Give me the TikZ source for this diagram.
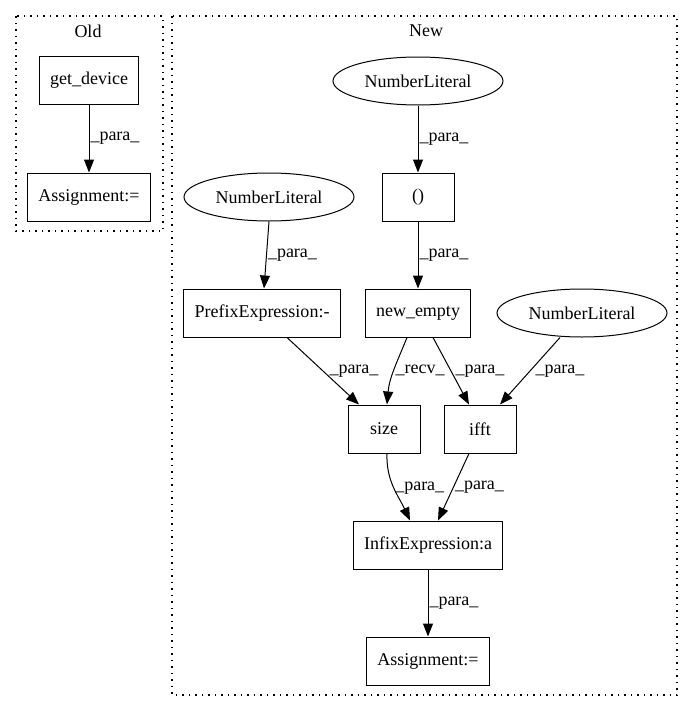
\documentclass[tikz,border=0pt]{standalone}
\usepackage{fontspec}
\setmainfont{Liberation Serif}
\usetikzlibrary{positioning, arrows.meta, shapes.geometric}

\begin{document}
\begin{tikzpicture}
    [
        x=1pt, y=-1pt, node distance=116pt and 34pt, on grid,
        font=\fontsize{18}{21}\selectfont,
        box_node/.style={rectangle, draw=black, line width=1pt, minimum height=48pt, minimum width=72pt, inner xsep=11pt},
        oval_node/.style={ellipse, draw=black, line width=1pt, minimum height=48pt, minimum width=170pt, inner sep=0pt},
        edge/.style={-{Triangle[length=13pt, width=10pt]}, line width=1pt, color=black},
        lbl/.style={midway, anchor=west, inner sep=1pt},
        cluster/.style={draw=black, line width=1.2pt, dash pattern=on 1.5pt off 5pt},
    ]
        \useasboundingbox (0,0) rectangle (693,712);
        % clusters
        \draw[cluster] (16,16) rectangle (163,231);
        \draw[cluster] (172,16) rectangle (677,695);
        \node (old_title) at (88,31) {Old};
        \node (new_title) at (426,31) {New};
        % old
        \node[box_node] (get_device) at (89,80) {get\_device};
        \node[box_node] (old_assign) [below = 117pt of get_device] {Assignment:=};
        % new
        \node[oval_node] (top_lit) at (418,81) {NumberLiteral};
        \node[box_node] (paren) [below = of top_lit] {()};
        \node[box_node] (new_empty) [below = of paren] {new\_empty};
        \node[oval_node] (left_lit) at (269,197) {NumberLiteral};
        \node[box_node] (prefix) at (262,313) {PrefixExpression:-};
        \node[oval_node] (right_lit) at (582,313) {NumberLiteral};
        \node[box_node] (size) [below left = of new_empty] {size};
        \node[box_node] (ifft) at (480,429) {ifft};
        \node[box_node] (infix) at (428,545) {InfixExpression:a};
        \node[box_node] (new_assign) [below = of infix] {Assignment:=};
        % edges
        \draw[edge] (get_device) -- (old_assign) node[lbl] {\_para\_};
        \draw[edge] (top_lit) -- (paren) node[lbl] {\_para\_};
        \draw[edge] (paren) -- (new_empty) node[lbl] {\_para\_};
        \draw[edge] (left_lit.south) -- ([xshift=2pt]prefix.north) node[lbl] {\_para\_};
        \draw[edge] ([xshift=25pt]prefix.south) -- ([xshift=-25pt]size.north) node[lbl, xshift=5pt] {\_para\_};
        \draw[edge] ([xshift=-11pt]new_empty.south) to[out=-112, in=85] node[lbl] {\_recv\_} ([xshift=3pt]size.north);
        \draw[edge] ([xshift=15pt]new_empty.south) -- ([xshift=-11pt]ifft.north) node[lbl, xshift=3pt] {\_para\_};
        \draw[edge] ([xshift=-22pt]right_lit.south) -- ([xshift=20pt]ifft.north) node[lbl, xshift=4pt] {\_para\_};
        \draw[edge] ([xshift=3pt]size.south) to[out=-92, in=115] node[lbl] {\_para\_} ([xshift=-18pt]infix.north);
        \draw[edge] ([xshift=-11pt]ifft.south) -- ([xshift=10pt]infix.north) node[lbl] {\_para\_};
        \draw[edge] (infix) -- (new_assign) node[lbl] {\_para\_};
    \end{tikzpicture}
\end{document}
